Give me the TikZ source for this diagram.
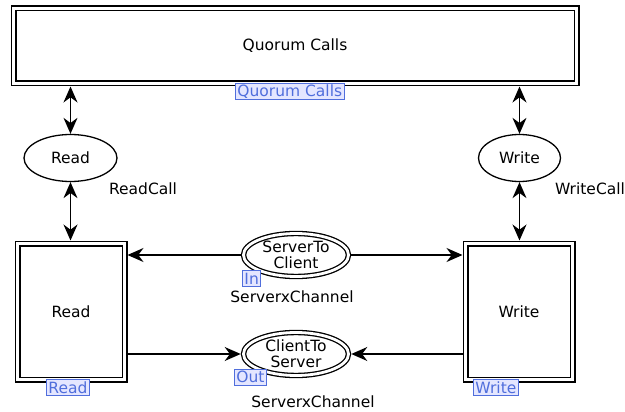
\documentclass[tikz,border=0pt]{standalone}
\usepackage{fontspec}
\setmainfont{DejaVu Sans}
\usepackage{xcolor}
\definecolor{cpnblue}{RGB}{80, 110, 220}
\definecolor{cpnfill}{RGB}{228, 230, 255}
\usetikzlibrary{arrows.meta, shapes.geometric}

\begin{document}
\begin{tikzpicture}[x=1pt, y=-1pt, font=\fontsize{15.5}{16}\selectfont,
      trans/.style={draw, double, double distance=3.2pt, line width=1.4pt,
            outer sep=3pt, inner sep=0pt},
      place/.style={draw, ellipse, line width=1.3pt, inner sep=0pt},
      fusion/.style={place, double, double distance=2.8pt, outer sep=2.8pt},
      porttag/.style={draw=cpnblue, fill=cpnfill, text=cpnblue, line width=0.9pt,
            inner xsep=2pt, inner ysep=0pt, minimum height=16pt, anchor=west},
      arc/.style={line width=1.3pt, -{Stealth[length=16pt, width=14pt]}},
      biarc/.style={line width=1.3pt,
            {Stealth[length=16pt, width=14pt]}-{Stealth[length=16pt, width=14pt]}}]
      \useasboundingbox (0,0) rectangle (625,412);

      % transitions
      \node[trans, minimum width=563pt, minimum height=75pt] (quorum) at (295,46)
            {Quorum Calls};
      \node[trans, minimum width=107pt, minimum height=136pt] (read) at (71,311.5)
            {Read};
      \node[trans, minimum width=107pt, minimum height=136pt] (write) at (519,311.5)
            {Write};

      % places
      \node[place, minimum width=93pt, minimum height=47pt] (rdcall) at (70.5,158)
            {Read};
      \node[place, minimum width=82pt, minimum height=47pt] (wrcall) at (519.5,158)
            {Write};
      \node[fusion, minimum width=105pt, minimum height=43pt,
            label={[align=center]center:ServerTo\\Client}] (stc) at (296,255) {};
      \node[fusion, minimum width=105pt, minimum height=43pt,
            label={[align=center]center:ClientTo\\Server}] (cts) at (296,354) {};

      % colour sets
      \node (rdtype) at (143,189) {ReadCall};
      \node (wrtype) at (590,189) {WriteCall};
      \node (stctype) at (292,297) {ServerxChannel};
      \node (ctstype) at (313,402) {ServerxChannel};

      % port and subpage tags
      \node[porttag] (quorumtag) at (235,91.5) {Quorum Calls\hspace{6pt}};
      \node[porttag] (readtag) at (46,387.5) {Read\hspace{6pt}};
      \node[porttag] (writetag) at (473,387.5) {Write\hspace{6pt}};
      \node[porttag] (intag) at (242,278.5) {In\hspace{4pt}};
      \node[porttag] (outtag) at (234,377) {Out\hspace{6pt}};

      % arcs
      \draw[biarc] (rdcall.north |- quorum.south) -- (rdcall.north);
      \draw[biarc] (rdcall.south) -- (rdcall.south |- read.north);
      \draw[biarc] (wrcall.north |- quorum.south) -- (wrcall.north);
      \draw[biarc] (wrcall.south) -- (wrcall.south |- write.north);
      \draw[arc] (stc.west) -- (stc.west -| read.east);
      \draw[arc] (stc.east) -- (stc.east -| write.west);
      \draw[arc] (cts.west -| read.east) -- (cts.west);
      \draw[arc] (cts.east -| write.west) -- (cts.east);
\end{tikzpicture}
\end{document}
